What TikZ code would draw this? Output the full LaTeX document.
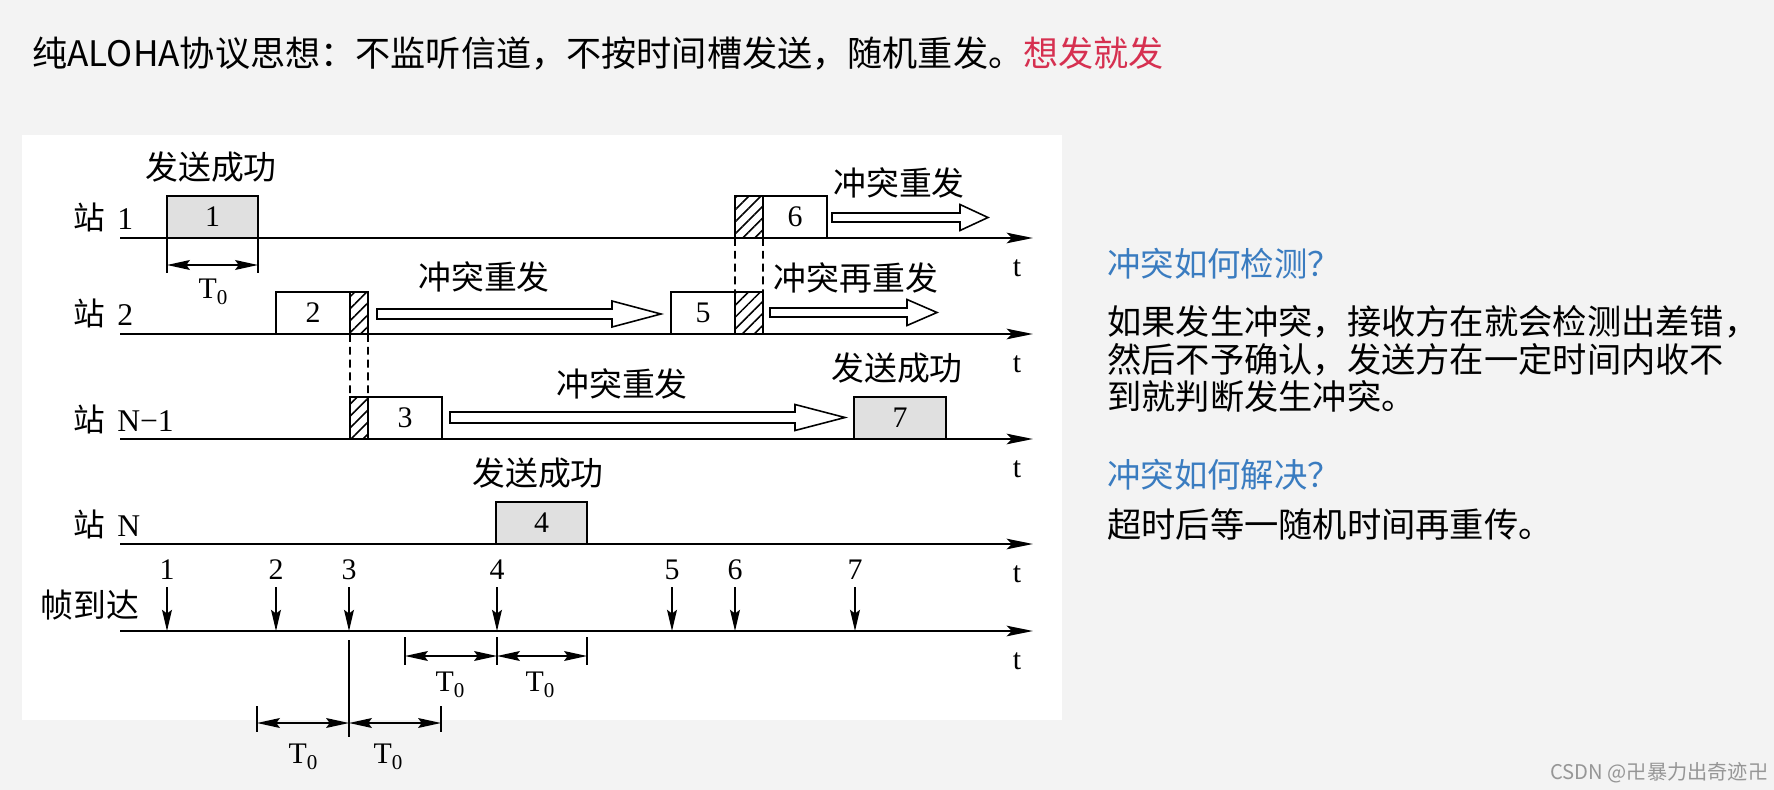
\documentclass[tikz,border=0pt]{standalone}
\usepackage{fontspec}
\setmainfont{Liberation Serif}
\newfontfamily\cjk{Noto Sans CJK SC}
\usetikzlibrary{arrows.meta,patterns.meta}

\definecolor{slidebg}{RGB}{243,243,243}
\definecolor{framegray}{RGB}{224,224,224}
\definecolor{alert}{RGB}{214,48,80}
\definecolor{askblue}{RGB}{58,124,192}
\definecolor{wmgray}{RGB}{150,150,150}

\newcommand\Tzero{T\raisebox{-0.4ex}{\fontsize{12pt}{12pt}\selectfont 0}}
% hollow retransmission arrow: start x, tip x, y, head length, shaft half height
\newcommand\resend[5]{%
    \draw[hollow] (#1,#3-#5) -- (#2-#4,#3-#5) -- (#2-#4,#3-13) -- (#2,#3)
        -- (#2-#4,#3+13) -- (#2-#4,#3+#5) -- (#1,#3+#5) -- cycle;}

\begin{document}
\begin{tikzpicture}[x=0.02cm, y=-0.02cm,
    axis/.style={draw=black, line width=1.3pt,
        -{Stealth[length=15pt, width=6pt, inset=3pt]}},
    frame/.style={draw=black, line width=1pt, inner sep=0pt, outer sep=0pt,
        minimum height=0.84cm, anchor=south west,
        font=\fontsize{17pt}{17pt}\selectfont},
    sent/.style={frame, fill=framegray},
    clash/.style={frame, pattern={Lines[angle=45, distance=4.8pt, line width=0.9pt]}},
    guide/.style={draw=black, line width=0.9pt, dash pattern=on 4.5pt off 2.8pt},
    hollow/.style={draw=black, line width=0.9pt, fill=white},
    dimen/.style={line width=0.9pt,
        {Stealth[length=13pt, width=5.6pt, inset=2pt]}-{Stealth[length=13pt, width=5.6pt, inset=2pt]}},
    tick/.style={line width=0.9pt},
    arrive/.style={line width=1pt, -{Stealth[length=12pt, width=5.6pt, inset=2pt]}},
    cnlabel/.style={font=\cjk\fontsize{18.7pt}{20pt}\selectfont, inner sep=0pt},
    numlabel/.style={font=\fontsize{17pt}{17pt}\selectfont, inner sep=0pt},
    stlabel/.style={font=\fontsize{18pt}{18pt}\selectfont, inner sep=0pt, anchor=base west}
]
    \fill[slidebg] (0,0) rectangle (1774,790);
    \fill[white] (22,135) rectangle (1062,720);
    \path[use as bounding box] (0,0) rectangle (1774,790);

    % Slide title.
    \node[anchor=west, inner sep=0pt, font=\cjk\fontsize{20pt}{22pt}\selectfont] (title) at (32,54)
        {纯ALOHA协议思想：不监听信道，不按时间槽发送，随机重发。\textcolor{alert}{想发就发}};

    % Time axes of the stations and of the frame arrivals.
    \foreach \y [count=\i] in {238,334,439,544,631} {
        \coordinate (a\i) at (120,\y);
        \coordinate (b\i) at (1033,\y);
        \draw[axis] (a\i) -- (b\i);
        \node[numlabel] (t\i) at (1017,\y+30) {t};
    }
    \foreach \y/\s in {238/1, 334/2, 439/N−1, 544/N}
        \node[stlabel] at (73,\y-8) {{\cjk 站}\hspace{7pt}\s};
    \node[cnlabel] (arrival) at (90,605) {帧到达};

    % Station 1.
    \node[sent, minimum width=1.82cm] (f1) at (167,238) {1};
    \node[clash, minimum width=0.56cm] (c6) at (735,238) {};
    \node[frame, minimum width=1.28cm] (f6) at (c6.south east) {6};
    \node[cnlabel] (ok1) at (211,167) {发送成功};
    \node[cnlabel] (re6) at (899,183) {冲突重发};
    \resend{832}{988}{217.5}{28}{4.5}
    \draw[tick] (f1.south west) -- ++(0,35);
    \draw[tick] (f1.south east) -- ++(0,35);
    \draw[dimen] (167,265) -- (258,265);
    \node[numlabel] at (213,292) {\Tzero};

    % Station 2.
    \node[frame, minimum width=1.48cm] (f2) at (276,334) {2};
    \node[clash, minimum width=0.36cm] (c2) at (f2.south east) {};
    \node[frame, minimum width=1.28cm] (f5) at (671,334) {5};
    \node[clash, minimum width=0.56cm] (c5) at (f5.south east) {};
    \node[cnlabel] (re2) at (484,277) {冲突重发};
    \node[cnlabel] (re5) at (856,278) {冲突再重发};
    \resend{377}{661}{314}{49}{5}
    \resend{770}{937}{312.5}{30}{4.5}
    \draw[guide] (c6.south west) -- (c5.north west);
    \draw[guide] (c6.south east) -- (c5.north east);

    % Station N-1.
    \node[clash, minimum width=0.36cm] (c3) at (350,439) {};
    \node[frame, minimum width=1.48cm] (f3) at (c3.south east) {3};
    \node[sent, minimum width=1.84cm] (f7) at (854,439) {7};
    \node[cnlabel] (re3) at (622,384) {冲突重发};
    \node[cnlabel] (ok7) at (897,368) {发送成功};
    \resend{450}{845}{417.5}{50}{5.5}
    \draw[guide] (c2.south west) -- (c3.north west);
    \draw[guide] (c2.south east) -- (c3.north east);

    % Station N.
    \node[sent, minimum width=1.82cm] (f4) at (496,544) {4};
    \node[cnlabel] (ok4) at (538,473) {发送成功};

    % Frame arrivals.
    \foreach \x [count=\k] in {167,276,349,497,672,735,855} {
        \node[numlabel] (n\k) at (\x,570) {\k};
        \coordinate (p\k) at (\x,631);
        \draw[arrive] (n\k) ++(0,17) -- (p\k);
    }

    % Vulnerable period of frame 4.
    \foreach \x in {405,497,587}
        \draw[tick] (\x,637) -- (\x,665);
    \draw[dimen] (405,656) -- (497,656);
    \draw[dimen] (497,656) -- (587,656);
    \node[numlabel] at (450,685) {\Tzero};
    \node[numlabel] at (540,685) {\Tzero};

    % Vulnerable period of frame 3.
    \draw[tick] (p3) ++(0,9) -- (349,737);
    \draw[tick] (257,706) -- (257,732);
    \draw[tick] (441,706) -- (441,732);
    \draw[dimen] (257,723) -- (349,723);
    \draw[dimen] (349,723) -- (441,723);
    \node[numlabel] at (303,757) {\Tzero};
    \node[numlabel] at (388,757) {\Tzero};

    % Notes on the right.
    \node[anchor=west, inner sep=0pt, text=askblue,
        font=\cjk\fontsize{19pt}{20pt}\selectfont] (q1) at (1107,264) {冲突如何检测？};
    \node[anchor=west, inner sep=0pt, align=left,
        font=\cjk\fontsize{19.5pt}{21.2pt}\selectfont] (a1) at (1107,359)
        {如果发生冲突，接收方在就会检测出差错，\\然后不予确认，发送方在一定时间内收不\\到就判断发生冲突。};
    \node[anchor=west, inner sep=0pt, text=askblue,
        font=\cjk\fontsize{19pt}{20pt}\selectfont] (q2) at (1107,475) {冲突如何解决？};
    \node[anchor=west, inner sep=0pt,
        font=\cjk\fontsize{19.5pt}{21.2pt}\selectfont] (a2) at (1107,524) {超时后等一随机时间再重传。};

    \node[anchor=west, inner sep=0pt, text=wmgray,
        font=\cjk\fontsize{11.5pt}{12pt}\selectfont] (wm) at (1550,773) {CSDN @卍暴力出奇迹卍};
\end{tikzpicture}
\end{document}
